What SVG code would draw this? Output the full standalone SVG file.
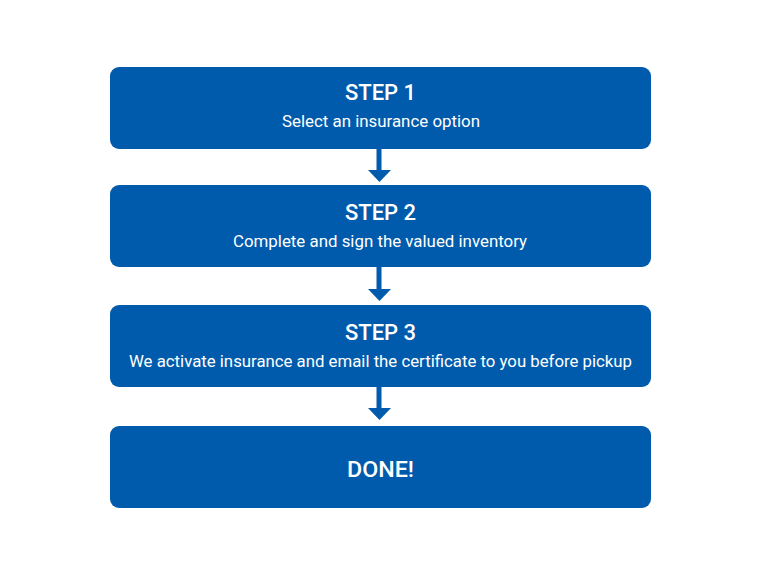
<svg xmlns="http://www.w3.org/2000/svg" width="760" height="570" viewBox="0 0 760 570">
<style>
.box{fill:#005bac}
.t{font-family:"Roboto","Liberation Sans",sans-serif;fill:#fff;text-anchor:middle}
.h{font-size:22px;font-weight:500}
.s{font-size:16.5px}
.con{stroke:#005bac;stroke-width:5;fill:none}
.head{fill:#005bac}
</style>
<rect width="760" height="570" fill="#fff"/>
<g id="step1"><rect class="box" x="110" y="67" width="541" height="82" rx="9"/><text class="t h" x="380.5" y="100">STEP 1</text><text class="t s" x="381" y="127" textLength="198" lengthAdjust="spacingAndGlyphs">Select an insurance option</text></g>
<g id="step2"><rect class="box" x="110" y="185" width="541" height="82" rx="9"/><text class="t h" x="380.5" y="220">STEP 2</text><text class="t s" x="380" y="247" textLength="294" lengthAdjust="spacingAndGlyphs">Complete and sign the valued inventory</text></g>
<g id="step3"><rect class="box" x="110" y="305" width="541" height="82" rx="9"/><text class="t h" x="380.5" y="340">STEP 3</text><text class="t s" x="380.5" y="367" textLength="503" lengthAdjust="spacingAndGlyphs">We activate insurance and email the certificate to you before pickup</text></g>
<g id="done"><rect class="box" x="110" y="426" width="541" height="82" rx="9"/><text class="t h" x="380.5" y="477" textLength="67" lengthAdjust="spacingAndGlyphs">DONE!</text></g>
<g id="connectors">
<line class="con" x1="379" y1="149" x2="379" y2="171"/><polygon class="head" points="368,170 391,170 379.5,182"/>
<line class="con" x1="379" y1="267" x2="379" y2="290"/><polygon class="head" points="368,289 391,289 379.5,301"/>
<line class="con" x1="379" y1="387" x2="379" y2="409"/><polygon class="head" points="368,408 391,408 379.5,420"/>
</g>
</svg>
